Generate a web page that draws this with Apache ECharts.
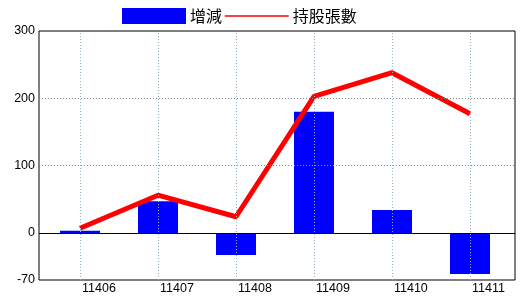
<!DOCTYPE html>
<html><head><meta charset="utf-8">
<script src="https://cdn.jsdelivr.net/npm/echarts@6/dist/echarts.min.js"></script>
<style>html,body{margin:0;padding:0;background:#fff}#c{width:520px;height:300px}</style>
</head><body><div id="c"></div>
<script>
const categories = ['11406','11407','11408','11409','11410','11411'];
const changeValues = [3, 47, -33, 180, 34, -61];
const holdingValues = [7, 56, 24, 203, 238, 177];
const yTicks = [-70, 0, 100, 200, 300];
const hGrid = [100, 200];

const idx = categories.map((c, i) => i);
const chart = echarts.init(document.getElementById('c'), null, {renderer: 'canvas'});
const font = 'Liberation Sans, Arial, sans-serif';
chart.setOption({
  animation: false,
  backgroundColor: '#fff',
  legend: {
    left: 122, top: 8, padding: 0, itemWidth: 64, itemHeight: 16, itemGap: 2,
    textStyle: {fontSize: 16, color: '#000', fontFamily: 'Noto Sans CJK TC, sans-serif', padding: [0,0,0,-1]},
    data: [
      {name: '增減', icon: 'rect'},
      {name: '持股張數', lineStyle: {width: 1.5}, itemStyle: {opacity: 0}}
    ]
  },
  grid: {left: 39, top: 31, right: 5, bottom: 20, show: true, borderColor: '#000', borderWidth: 1, backgroundColor: 'transparent'},
  xAxis: {
    type: 'value', min: -0.5256, max: 5.577,
    axisLine: {show: false}, axisTick: {show: false}, splitLine: {show: false},
    axisLabel: {customValues: idx, formatter: v => categories[Math.round(v)], align: 'left', padding: [0,0,0,2],
      fontSize: 12.5, color: '#000', fontFamily: font, margin: 2}
  },
  yAxis: {
    type: 'value', min: -70, max: 300,
    axisLine: {show: false}, axisTick: {show: false}, splitLine: {show: false},
    axisLabel: {customValues: yTicks, fontSize: 12.5, color: '#000', fontFamily: font, margin: 4}
  },
  series: [
    {
      type: 'line', name: 'grid', data: [], z: 1, silent: true, legendHoverLink: false,
      markLine: {
        silent: true, symbol: 'none', label: {show: false}, animation: false,
        data: [
          ...idx.map(i => ({xAxis: i, lineStyle: {color: '#8fb3c6', type: [1, 2], width: 1}})),
          ...hGrid.map(v => ({yAxis: v, lineStyle: {color: '#888', type: [1, 2], width: 1}}))
        ]
      }
    },
    {
      type: 'bar', name: '增減', z: 2, barWidth: 40,
      itemStyle: {color: '#0000ff'},
      data: changeValues.map((v, i) => [i, v]),
      markLine: {
        silent: true, symbol: 'none', label: {show: false},
        data: [{yAxis: 0, lineStyle: {color: '#000', type: 'solid', width: 1}}]
      }
    },
    {
      type: 'line', name: '持股張數', z: 3, symbol: 'none',
      lineStyle: {color: '#ff0000', width: 5}, itemStyle: {color: '#ff0000'},
      data: holdingValues.map((v, i) => [i, v])
    }
  ]
});
</script></body></html>
